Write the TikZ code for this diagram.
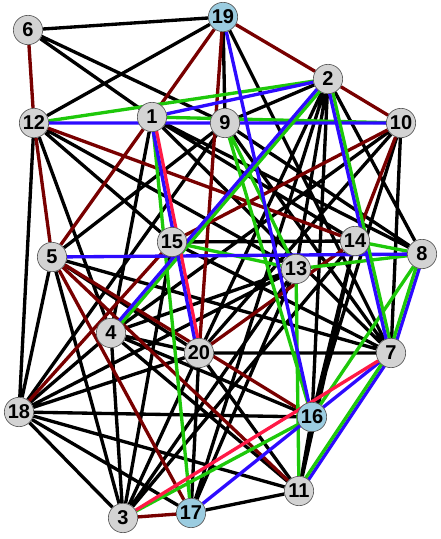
\documentclass[tikz,border=0pt]{standalone}
\usepackage{fontspec}
\setmainfont{Liberation Sans}
\definecolor{edgeMaroon}{RGB}{120,0,0}
\definecolor{edgeGreen}{RGB}{30,200,10}
\definecolor{edgeBlue}{RGB}{45,10,255}
\definecolor{edgeRed}{RGB}{255,25,70}
\definecolor{nodeGray}{RGB}{211,211,211}
\definecolor{nodeBlue}{RGB}{155,204,224}
\usetikzlibrary{calc,backgrounds}

% two edges between the same pair, drawn side by side
\newcommand\pairline[4]{%
  \draw[edge,#1] ($(#3.center)!1.25pt!90:(#4.center)$) -- ($(#4.center)!1.25pt!-90:(#3.center)$);
  \draw[edge,#2] ($(#3.center)!1.25pt!-90:(#4.center)$) -- ($(#4.center)!1.25pt!90:(#3.center)$);}

\begin{document}
\begin{tikzpicture}[x=0.75pt, y=-0.75pt,
  vtx/.style={circle, draw=gray!70!black, line width=0.5pt, fill=nodeGray,
              minimum size=22pt, inner sep=0pt,
              font=\fontsize{15}{16}\selectfont\bfseries},
  hub/.style={vtx, fill=nodeBlue},
  edge/.style={line width=2.5pt}
]
  \useasboundingbox (0,0) rectangle (440,539);

  \node[vtx] (v6)  at (28,30)   {6};
  \node[hub] (v19) at (223,17)  {19};
  \node[vtx] (v2)  at (328,79)  {2};
  \node[vtx] (v12) at (34,123)  {12};
  \node[vtx] (v1)  at (152,117) {1};
  \node[vtx] (v9)  at (225,123) {9};
  \node[vtx] (v10) at (401,123) {10};
  \node[vtx] (v5)  at (52,257)  {5};
  \node[vtx] (v15) at (172,242) {15};
  \node[vtx] (v14) at (355,241) {14};
  \node[vtx] (v8)  at (422,254) {8};
  \node[vtx] (v13) at (296,269) {13};
  \node[vtx] (v4)  at (111,333) {4};
  \node[vtx] (v20) at (199,353) {20};
  \node[vtx] (v7)  at (391,353) {7};
  \node[vtx] (v18) at (19,412)  {18};
  \node[hub] (v16) at (312,417) {16};
  \node[vtx] (v11) at (299,491) {11};
  \node[vtx] (v3)  at (123,518) {3};
  \node[hub] (v17) at (191,513) {17};

  \begin{pgfonlayer}{background}
  \draw[edge, black]
    (v6)--(v19) (v6)--(v1) (v6)--(v9)
    (v19)--(v12) (v19)--(v9) (v19)--(v7)
    (v2)--(v9) (v2)--(v20) (v2)--(v17) (v2)--(v13) (v2)--(v16) (v2)--(v8)
    (v12)--(v18) (v12)--(v4) (v12)--(v13) (v12)--(v15)
    (v1)--(v4) (v1)--(v14) (v1)--(v8) (v1)--(v7)
    (v9)--(v5) (v9)--(v8) (v9)--(v7) (v9)--(v18)
    (v10)--(v4) (v10)--(v7) (v10)--(v16) (v10)--(v20)
    (v5)--(v18) (v5)--(v3) (v5)--(v20) (v5)--(v7)
    (v4)--(v18) (v4)--(v20) (v4)--(v13) (v4)--(v11) (v4)--(v16) (v4)--(v3)
    (v15)--(v14) (v15)--(v7) (v15)--(v3)
    (v14)--(v3) (v14)--(v11) (v14)--(v16)
    (v18)--(v16) (v18)--(v11) (v18)--(v17) (v18)--(v3) (v18)--(v20) (v18)--(v13)
    (v3)--(v20) (v3)--(v13)
    (v17)--(v20) (v17)--(v11) (v17)--(v13)
    (v20)--(v7) (v20)--(v11) (v16)--(v11);
  \draw[edge, edgeMaroon]
    (v6)--(v12) (v19)--(v2) (v2)--(v10) (v19)--(v1) (v19)--(v20)
    (v12)--(v5) (v12)--(v14) (v1)--(v5) (v10)--(v15) (v10)--(v14)
    (v14)--(v20) (v18)--(v15) (v5)--(v17) (v5)--(v11) (v5)--(v16) (v17)--(v3);
  \draw[edge, edgeGreen]
    (v12)--(v2) (v1)--(v10) (v1)--(v17) (v15)--(v13) (v13)--(v8) (v14)--(v8)
    (v8)--(v16) (v16)--(v3) (v13)--(v11) (v9)--(v16) (v9)--(v13);
  \draw[edge, edgeBlue]
    (v12)--(v10) (v1)--(v2) (v19)--(v16) (v5)--(v8) (v17)--(v7);
  \draw[edge, edgeRed] (v3)--(v7);
  \pairline{edgeGreen}{edgeBlue}{v2}{v4}
  \pairline{edgeGreen}{edgeBlue}{v2}{v7}
  \pairline{edgeBlue}{edgeGreen}{v8}{v7}
  \pairline{edgeBlue}{edgeGreen}{v7}{v11}
  \pairline{edgeRed}{edgeBlue}{v1}{v20}
  \end{pgfonlayer}
\end{tikzpicture}
\end{document}
